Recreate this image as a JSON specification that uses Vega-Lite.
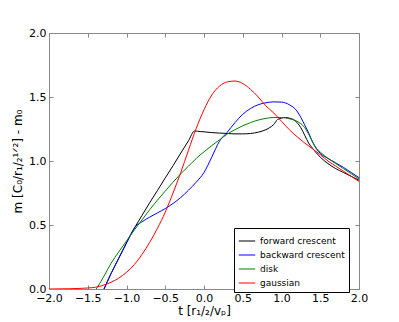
{
  "$schema": "https://vega.github.io/schema/vega-lite/v6.json",
  "width": 310,
  "height": 256,
  "autosize": {"type": "none"},
  "padding": {"left": 49, "top": 33, "right": 40, "bottom": 33},
  "background": "white",
  "config": {
    "view": {"stroke": "#888888", "strokeWidth": 1},
    "font": "DejaVu Sans",
    "axis": {
      "grid": false,
      "domainColor": "#888888",
      "tickColor": "#888888",
      "tickSize": -4,
      "labelColor": "#000000",
      "titleColor": "#000000",
      "labelFont": "DejaVu Sans",
      "titleFont": "DejaVu Sans",
      "labelFontSize": 11,
      "titleFontSize": 12,
      "titleFontWeight": "normal",
      "labelFlush": false,
      "labelOverlap": false,
      "labelBound": false
    }
  },
  "data": {
    "values": [
      {"s": "forward crescent", "t": -1.29, "m": 0.0},
      {"s": "forward crescent", "t": -1.2, "m": 0.12},
      {"s": "forward crescent", "t": -1.1, "m": 0.24},
      {"s": "forward crescent", "t": -1.0, "m": 0.36},
      {"s": "forward crescent", "t": -0.89, "m": 0.484},
      {"s": "forward crescent", "t": -0.8, "m": 0.575},
      {"s": "forward crescent", "t": -0.7, "m": 0.675},
      {"s": "forward crescent", "t": -0.6, "m": 0.77},
      {"s": "forward crescent", "t": -0.5, "m": 0.868},
      {"s": "forward crescent", "t": -0.4, "m": 0.963},
      {"s": "forward crescent", "t": -0.3, "m": 1.062},
      {"s": "forward crescent", "t": -0.2, "m": 1.158},
      {"s": "forward crescent", "t": -0.12, "m": 1.235},
      {"s": "forward crescent", "t": -0.05, "m": 1.23},
      {"s": "forward crescent", "t": 0.0, "m": 1.228},
      {"s": "forward crescent", "t": 0.1, "m": 1.222},
      {"s": "forward crescent", "t": 0.2, "m": 1.218},
      {"s": "forward crescent", "t": 0.3, "m": 1.215},
      {"s": "forward crescent", "t": 0.4, "m": 1.212},
      {"s": "forward crescent", "t": 0.5, "m": 1.212},
      {"s": "forward crescent", "t": 0.6, "m": 1.215},
      {"s": "forward crescent", "t": 0.7, "m": 1.225},
      {"s": "forward crescent", "t": 0.8, "m": 1.245},
      {"s": "forward crescent", "t": 0.85, "m": 1.262},
      {"s": "forward crescent", "t": 0.9, "m": 1.285},
      {"s": "forward crescent", "t": 0.95, "m": 1.325},
      {"s": "forward crescent", "t": 1.0, "m": 1.335},
      {"s": "forward crescent", "t": 1.05, "m": 1.34},
      {"s": "forward crescent", "t": 1.1, "m": 1.335},
      {"s": "forward crescent", "t": 1.15, "m": 1.325},
      {"s": "forward crescent", "t": 1.2, "m": 1.3},
      {"s": "forward crescent", "t": 1.25, "m": 1.26},
      {"s": "forward crescent", "t": 1.3, "m": 1.2},
      {"s": "forward crescent", "t": 1.35, "m": 1.14},
      {"s": "forward crescent", "t": 1.4, "m": 1.1},
      {"s": "forward crescent", "t": 1.5, "m": 1.03},
      {"s": "forward crescent", "t": 1.6, "m": 0.98},
      {"s": "forward crescent", "t": 1.7, "m": 0.94},
      {"s": "forward crescent", "t": 1.8, "m": 0.91},
      {"s": "forward crescent", "t": 1.9, "m": 0.88},
      {"s": "forward crescent", "t": 2.0, "m": 0.85},

      {"s": "backward crescent", "t": -1.29, "m": 0.0},
      {"s": "backward crescent", "t": -1.2, "m": 0.12},
      {"s": "backward crescent", "t": -1.1, "m": 0.24},
      {"s": "backward crescent", "t": -1.0, "m": 0.36},
      {"s": "backward crescent", "t": -0.89, "m": 0.484},
      {"s": "backward crescent", "t": -0.8, "m": 0.525},
      {"s": "backward crescent", "t": -0.7, "m": 0.562},
      {"s": "backward crescent", "t": -0.6, "m": 0.595},
      {"s": "backward crescent", "t": -0.5, "m": 0.628},
      {"s": "backward crescent", "t": -0.4, "m": 0.668},
      {"s": "backward crescent", "t": -0.3, "m": 0.715},
      {"s": "backward crescent", "t": -0.2, "m": 0.772},
      {"s": "backward crescent", "t": -0.1, "m": 0.835},
      {"s": "backward crescent", "t": 0.0, "m": 0.91},
      {"s": "backward crescent", "t": 0.1, "m": 1.03},
      {"s": "backward crescent", "t": 0.2, "m": 1.155},
      {"s": "backward crescent", "t": 0.3, "m": 1.225},
      {"s": "backward crescent", "t": 0.4, "m": 1.3},
      {"s": "backward crescent", "t": 0.5, "m": 1.365},
      {"s": "backward crescent", "t": 0.6, "m": 1.41},
      {"s": "backward crescent", "t": 0.7, "m": 1.44},
      {"s": "backward crescent", "t": 0.8, "m": 1.455},
      {"s": "backward crescent", "t": 0.9, "m": 1.462},
      {"s": "backward crescent", "t": 1.0, "m": 1.46},
      {"s": "backward crescent", "t": 1.1, "m": 1.44},
      {"s": "backward crescent", "t": 1.2, "m": 1.39},
      {"s": "backward crescent", "t": 1.25, "m": 1.34},
      {"s": "backward crescent", "t": 1.3, "m": 1.28},
      {"s": "backward crescent", "t": 1.35, "m": 1.22},
      {"s": "backward crescent", "t": 1.4, "m": 1.15},
      {"s": "backward crescent", "t": 1.45, "m": 1.095},
      {"s": "backward crescent", "t": 1.5, "m": 1.06},
      {"s": "backward crescent", "t": 1.6, "m": 1.02},
      {"s": "backward crescent", "t": 1.7, "m": 0.985},
      {"s": "backward crescent", "t": 1.8, "m": 0.95},
      {"s": "backward crescent", "t": 1.9, "m": 0.91},
      {"s": "backward crescent", "t": 2.0, "m": 0.87},

      {"s": "disk", "t": -1.39, "m": 0.0},
      {"s": "disk", "t": -1.3, "m": 0.09},
      {"s": "disk", "t": -1.2, "m": 0.2},
      {"s": "disk", "t": -1.1, "m": 0.29},
      {"s": "disk", "t": -1.0, "m": 0.375},
      {"s": "disk", "t": -0.9, "m": 0.46},
      {"s": "disk", "t": -0.8, "m": 0.54},
      {"s": "disk", "t": -0.7, "m": 0.62},
      {"s": "disk", "t": -0.6, "m": 0.695},
      {"s": "disk", "t": -0.5, "m": 0.765},
      {"s": "disk", "t": -0.4, "m": 0.835},
      {"s": "disk", "t": -0.3, "m": 0.9},
      {"s": "disk", "t": -0.2, "m": 0.96},
      {"s": "disk", "t": -0.1, "m": 1.02},
      {"s": "disk", "t": 0.0, "m": 1.072},
      {"s": "disk", "t": 0.1, "m": 1.12},
      {"s": "disk", "t": 0.2, "m": 1.165},
      {"s": "disk", "t": 0.3, "m": 1.21},
      {"s": "disk", "t": 0.4, "m": 1.245},
      {"s": "disk", "t": 0.5, "m": 1.275},
      {"s": "disk", "t": 0.6, "m": 1.3},
      {"s": "disk", "t": 0.7, "m": 1.32},
      {"s": "disk", "t": 0.8, "m": 1.333},
      {"s": "disk", "t": 0.9, "m": 1.34},
      {"s": "disk", "t": 1.0, "m": 1.34},
      {"s": "disk", "t": 1.1, "m": 1.33},
      {"s": "disk", "t": 1.2, "m": 1.31},
      {"s": "disk", "t": 1.3, "m": 1.26},
      {"s": "disk", "t": 1.35, "m": 1.21},
      {"s": "disk", "t": 1.4, "m": 1.15},
      {"s": "disk", "t": 1.45, "m": 1.1},
      {"s": "disk", "t": 1.5, "m": 1.07},
      {"s": "disk", "t": 1.6, "m": 1.02},
      {"s": "disk", "t": 1.7, "m": 0.98},
      {"s": "disk", "t": 1.8, "m": 0.94},
      {"s": "disk", "t": 1.9, "m": 0.9},
      {"s": "disk", "t": 2.0, "m": 0.86},

      {"s": "gaussian", "t": -2.0, "m": 0.0},
      {"s": "gaussian", "t": -1.75, "m": 0.002},
      {"s": "gaussian", "t": -1.5, "m": 0.008},
      {"s": "gaussian", "t": -1.4, "m": 0.014},
      {"s": "gaussian", "t": -1.25, "m": 0.04},
      {"s": "gaussian", "t": -1.1, "m": 0.085},
      {"s": "gaussian", "t": -1.0, "m": 0.13},
      {"s": "gaussian", "t": -0.9, "m": 0.19},
      {"s": "gaussian", "t": -0.8, "m": 0.27},
      {"s": "gaussian", "t": -0.7, "m": 0.365},
      {"s": "gaussian", "t": -0.6, "m": 0.475},
      {"s": "gaussian", "t": -0.5, "m": 0.6},
      {"s": "gaussian", "t": -0.4, "m": 0.75},
      {"s": "gaussian", "t": -0.3, "m": 0.91},
      {"s": "gaussian", "t": -0.2, "m": 1.085},
      {"s": "gaussian", "t": -0.1, "m": 1.255},
      {"s": "gaussian", "t": 0.0, "m": 1.4},
      {"s": "gaussian", "t": 0.1, "m": 1.515},
      {"s": "gaussian", "t": 0.2, "m": 1.585},
      {"s": "gaussian", "t": 0.3, "m": 1.618},
      {"s": "gaussian", "t": 0.4, "m": 1.625},
      {"s": "gaussian", "t": 0.5, "m": 1.605},
      {"s": "gaussian", "t": 0.6, "m": 1.56},
      {"s": "gaussian", "t": 0.7, "m": 1.5},
      {"s": "gaussian", "t": 0.8, "m": 1.43},
      {"s": "gaussian", "t": 0.9, "m": 1.375},
      {"s": "gaussian", "t": 1.0, "m": 1.31},
      {"s": "gaussian", "t": 1.1, "m": 1.245},
      {"s": "gaussian", "t": 1.2, "m": 1.19},
      {"s": "gaussian", "t": 1.3, "m": 1.14},
      {"s": "gaussian", "t": 1.4, "m": 1.095},
      {"s": "gaussian", "t": 1.5, "m": 1.05},
      {"s": "gaussian", "t": 1.6, "m": 1.0},
      {"s": "gaussian", "t": 1.7, "m": 0.96},
      {"s": "gaussian", "t": 1.8, "m": 0.92},
      {"s": "gaussian", "t": 1.9, "m": 0.88},
      {"s": "gaussian", "t": 2.0, "m": 0.84}
    ]
  },
  "layer": [
    {
      "mark": {"type": "line", "strokeWidth": 1, "interpolate": "monotone", "clip": true},
      "encoding": {
        "x": {
          "field": "t", "type": "quantitative",
          "scale": {"domain": [-2, 2], "nice": false, "zero": false},
          "axis": {
            "orient": "bottom",
            "values": [-2, -1.5, -1, -0.5, 0, 0.5, 1, 1.5, 2],
            "format": ".1f",
            "labelPadding": 7,
            "title": "t [r₁/₂/vₚ]",
            "titlePadding": 2
          }
        },
        "y": {
          "field": "m", "type": "quantitative",
          "scale": {"domain": [0, 2], "nice": false},
          "axis": {
            "orient": "left",
            "values": [0, 0.5, 1, 1.5, 2],
            "format": ".1f",
            "labelPadding": 7,
            "title": "m [C₀/r₁/₂¹ᐟ²] - m₀",
            "titlePadding": 4
          }
        },
        "color": {
          "field": "s", "type": "nominal",
          "scale": {
            "domain": ["forward crescent", "backward crescent", "disk", "gaussian"],
            "range": ["#000000", "#0000ff", "#008000", "#ff0000"]
          },
          "legend": {
            "orient": "none",
            "legendX": 185,
            "legendY": 195,
            "title": null,
            "symbolType": "stroke",
            "symbolSize": 270,
            "symbolStrokeWidth": 1,
            "labelFontSize": 9,
            "labelFont": "DejaVu Sans",
            "labelOffset": 4,
            "rowPadding": -3.5,
            "padding": 4,
            "strokeColor": "#000000",
            "fillColor": "white"
          }
        }
      }
    },
    {
      "mark": {"type": "line", "opacity": 0},
      "encoding": {
        "x": {
          "field": "t", "type": "quantitative",
          "scale": {"domain": [-2, 2], "nice": false, "zero": false},
          "axis": {"orient": "top", "values": [-2, -1.5, -1, -0.5, 0, 0.5, 1, 1.5, 2], "labels": false, "title": null}
        },
        "y": {
          "field": "m", "type": "quantitative",
          "scale": {"domain": [0, 2], "nice": false},
          "axis": {"orient": "right", "values": [0, 0.5, 1, 1.5, 2], "labels": false, "title": null}
        }
      }
    }
  ],
  "resolve": {"axis": {"x": "independent", "y": "independent"}}
}
